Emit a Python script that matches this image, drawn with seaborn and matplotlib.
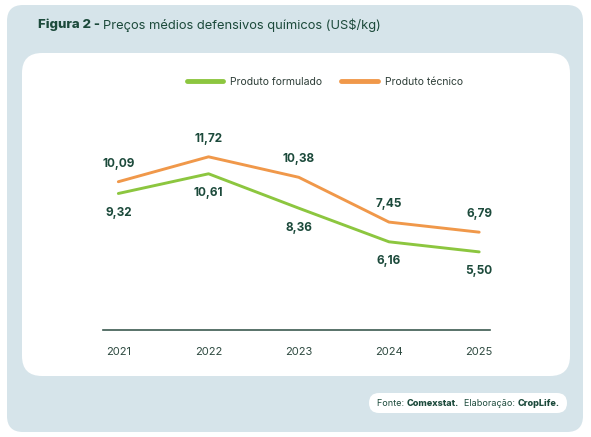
import seaborn as sns
import pandas as pd
import matplotlib.pyplot as plt
from matplotlib.patches import FancyBboxPatch

anos = [2021, 2022, 2023, 2024, 2025]
formulado = [9.32, 10.61, 8.36, 6.16, 5.50]
tecnico = [10.09, 11.72, 10.38, 7.45, 6.79]
series = ["Produto formulado", "Produto técnico"]

GREEN = "#8cc63f"
ORANGE = "#f0984a"
DARK = "#1c4a3b"
BG = "#d6e4ea"

df = pd.DataFrame({
    "ano": anos * 2,
    "preco": formulado + tecnico,
    "serie": [series[0]] * len(anos) + [series[1]] * len(anos),
})

sns.set_theme(style="white")
plt.rcParams["font.family"] = ["Inter", "DejaVu Sans"]

fig = plt.figure(figsize=(5.91, 4.37), dpi=100)
fig.patch.set_facecolor("white")

# background panels in pixel coords
bg = fig.add_axes([0, 0, 1, 1])
bg.set_xlim(0, 591)
bg.set_ylim(437, 0)
bg.axis("off")
bg.add_patch(FancyBboxPatch((7, 5), 576, 427, boxstyle="round,pad=0,rounding_size=16",
                            fc=BG, ec="none"))
bg.add_patch(FancyBboxPatch((22, 53), 548, 323, boxstyle="round,pad=0,rounding_size=20",
                            fc="white", ec="none"))
bg.add_patch(FancyBboxPatch((369, 393), 198, 20, boxstyle="round,pad=0,rounding_size=10",
                            fc="white", ec="none"))

ax = fig.add_axes([103 / 591, 1 - 330 / 437, 387 / 591, 214 / 437])
ax.patch.set_alpha(0)
sns.lineplot(data=df, x="ano", y="preco", hue="serie", palette=[GREEN, ORANGE],
             linewidth=2.1, ax=ax)

ax.set_xlim(2020.83, 2025.12)
ax.set_ylim(0.39, 14.39)
ax.set_xticks(anos)
ax.set_xticklabels([str(a) for a in anos], fontsize=8, color="#2e4a40")
ax.set_yticks([])
ax.set_xlabel("")
ax.set_ylabel("")
for s in ["top", "right", "left"]:
    ax.spines[s].set_visible(False)
ax.spines["bottom"].set_color("#3c5a50")
ax.spines["bottom"].set_linewidth(1.2)
ax.tick_params(axis="x", length=0, pad=12)

for x, v in zip(anos, tecnico):
    ax.annotate(f"{v:.2f}".replace(".", ","), (x, v), xytext=(0, 13), textcoords="offset points",
                ha="center", va="center", fontsize=8.5, fontweight="bold", color=DARK)
for x, v in zip(anos, formulado):
    ax.annotate(f"{v:.2f}".replace(".", ","), (x, v), xytext=(0, -14), textcoords="offset points",
                ha="center", va="center", fontsize=8.5, fontweight="bold", color=DARK)

leg = ax.legend(loc="center", bbox_to_anchor=(325 / 591, 1 - 82 / 437),
                bbox_transform=fig.transFigure, ncol=2, frameon=False, fontsize=7.5,
                handlelength=3.5, columnspacing=1.8, handletextpad=0.7)
for line in leg.get_lines():
    line.set_linewidth(3.5)
    line.set_solid_capstyle("round")
for t in leg.get_texts():
    t.set_color("#2e3e38")

# title
r = fig.canvas.get_renderer()
t1 = fig.text(38 / 591, 1 - 25 / 437, "Figura 2 - ", fontsize=9.5, fontweight="heavy",
              color=DARK, va="center", ha="left")
bb = t1.get_window_extent(r)
fig.text(bb.x1 / fig.bbox.width, 1 - 25 / 437, "Preços médios defensivos químicos (US$/kg)",
         fontsize=9.3, color=DARK, va="center", ha="left")

# footer
parts = [("Fonte: ", "normal"), ("Comexstat.", "heavy"), ("  Elaboração: ", "normal"),
         ("CropLife.", "heavy")]
x0 = 377
for txt, w in parts:
    t = fig.text(x0 / 591, 1 - 403 / 437, txt, fontsize=6.5, fontweight=w, color=DARK,
                 va="center", ha="left")
    x0 = t.get_window_extent(r).x1

fig.savefig("out.png", dpi=100)
